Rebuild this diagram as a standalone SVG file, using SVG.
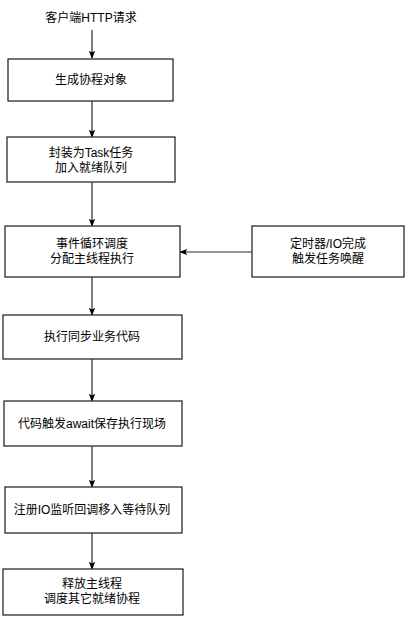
<svg xmlns="http://www.w3.org/2000/svg" width="419" height="624" viewBox="0 0 419 624">
<style>
.box{fill:#fff;stroke:#2b2b2b;stroke-width:1.3}
.t{font-family:"Liberation Sans","Noto Sans CJK SC",sans-serif;font-size:12px;fill:#000;text-anchor:middle}
.c{fill:none;stroke:#2b2b2b;stroke-width:1.2;marker-end:url(#ah)}
</style>
<defs>
<marker id="ah" viewBox="0 0 10 10" refX="9" refY="5" markerWidth="8" markerHeight="8" markerUnits="userSpaceOnUse" orient="auto">
<path d="M0,1 L10,5 L0,9 L2,5 Z" fill="#000"/>
</marker>
</defs>
<rect width="419" height="624" fill="#fff"/>
<g id="connectors">
<path class="c" d="M92,30 V58"/>
<path class="c" d="M92,101 V137"/>
<path class="c" d="M92,182 V226"/>
<path class="c" d="M252,252 H180"/>
<path class="c" d="M92,277 V315"/>
<path class="c" d="M92,359 V401"/>
<path class="c" d="M92,446 V487"/>
<path class="c" d="M92,533 V569"/>
</g>
<g id="start"><text class="t" x="91" y="22">客户端HTTP请求</text></g>
<g id="n1"><rect class="box" x="8" y="59" width="165" height="42"/><text class="t" x="91" y="84">生成协程对象</text></g>
<g id="n2"><rect class="box" x="7" y="137" width="168" height="45"/><text class="t" x="91" y="157">封装为Task任务</text><text class="t" x="91" y="172">加入就绪队列</text></g>
<g id="n3"><rect class="box" x="5" y="226" width="175" height="51"/><text class="t" x="92" y="248">事件循环调度</text><text class="t" x="92" y="263">分配主线程执行</text></g>
<g id="n8"><rect class="box" x="252" y="226" width="152" height="51"/><text class="t" x="328" y="248">定时器/IO完成</text><text class="t" x="328" y="263">触发任务唤醒</text></g>
<g id="n4"><rect class="box" x="3" y="315" width="179" height="44"/><text class="t" x="92" y="341">执行同步业务代码</text></g>
<g id="n5"><rect class="box" x="4" y="401" width="178" height="45"/><text class="t" x="92" y="428">代码触发await保存执行现场</text></g>
<g id="n6"><rect class="box" x="5" y="487" width="177" height="46"/><text class="t" x="92" y="514">注册IO监听回调移入等待队列</text></g>
<g id="n7"><rect class="box" x="3" y="569" width="180" height="46"/><text class="t" x="92" y="588">释放主线程</text><text class="t" x="92" y="603">调度其它就绪协程</text></g>
</svg>
